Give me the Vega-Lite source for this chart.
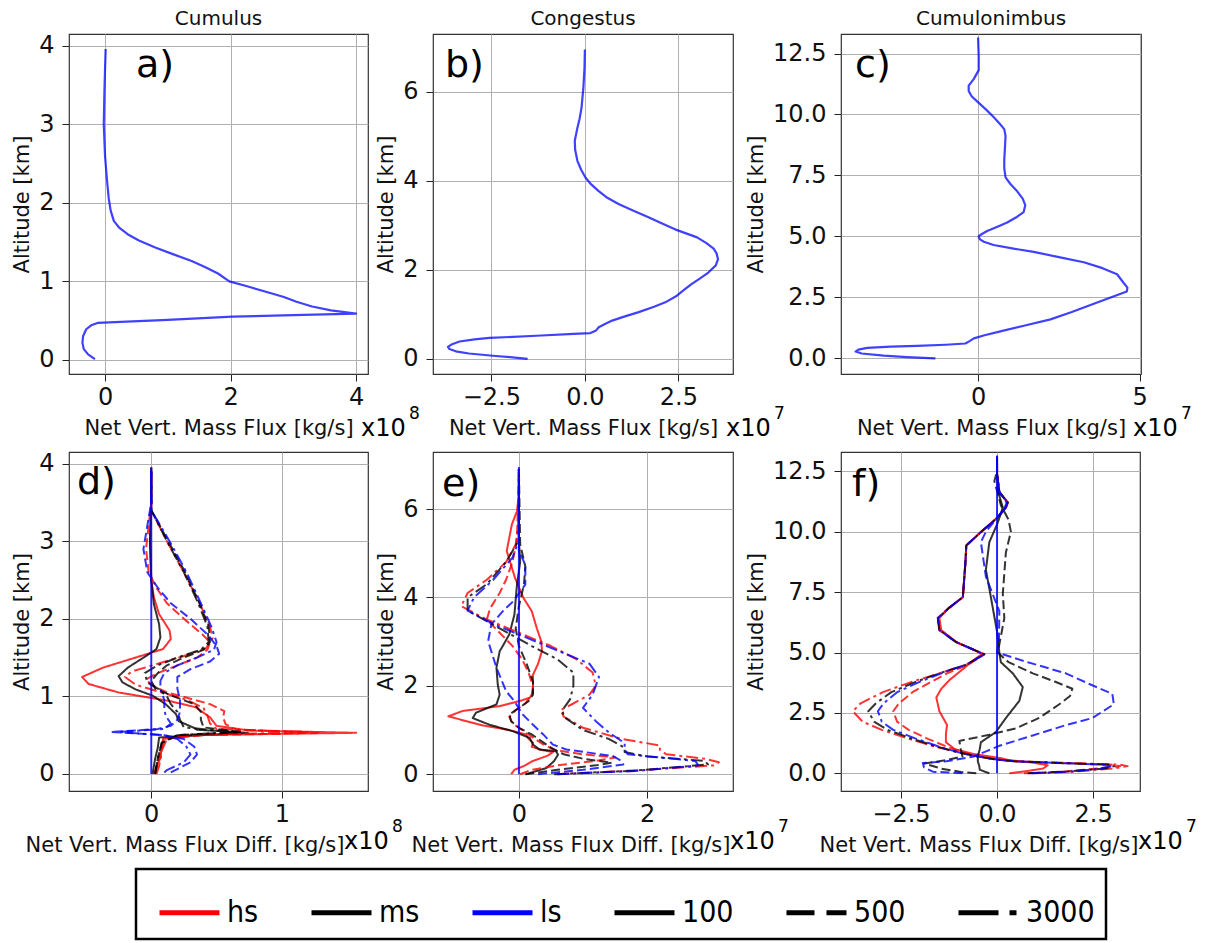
{
  "$schema": "https://vega.github.io/schema/vega-lite/v6.json",
  "background": "white",
  "padding": {"left": 11, "top": 8, "right": 0, "bottom": 0},
  "datasets": {
    "profiles": [
      {"panel":"a","alt":0.01,"flux":-0.16},{"panel":"a","alt":0.07,"flux":-0.27},{"panel":"a","alt":0.14,"flux":-0.34},{"panel":"a","alt":0.22,"flux":-0.36},{"panel":"a","alt":0.3,"flux":-0.35},{"panel":"a","alt":0.39,"flux":-0.3},{"panel":"a","alt":0.44,"flux":-0.22},{"panel":"a","alt":0.47,"flux":-0.12},{"panel":"a","alt":0.51,"flux":1.0},{"panel":"a","alt":0.55,"flux":2.03},{"panel":"a","alt":0.57,"flux":3.0},{"panel":"a","alt":0.59,"flux":4.0},{"panel":"a","alt":0.63,"flux":3.6},{"panel":"a","alt":0.68,"flux":3.3},{"panel":"a","alt":0.74,"flux":3.05},{"panel":"a","alt":0.8,"flux":2.85},{"panel":"a","alt":0.87,"flux":2.55},{"panel":"a","alt":0.94,"flux":2.25},{"panel":"a","alt":1.0,"flux":1.98},{"panel":"a","alt":1.1,"flux":1.8},{"panel":"a","alt":1.18,"flux":1.6},{"panel":"a","alt":1.26,"flux":1.38},{"panel":"a","alt":1.35,"flux":1.07},{"panel":"a","alt":1.43,"flux":0.8},{"panel":"a","alt":1.52,"flux":0.54},{"panel":"a","alt":1.6,"flux":0.36},{"panel":"a","alt":1.68,"flux":0.23},{"panel":"a","alt":1.77,"flux":0.14},{"panel":"a","alt":1.9,"flux":0.09},{"panel":"a","alt":2.05,"flux":0.06},{"panel":"a","alt":2.3,"flux":0.03},{"panel":"a","alt":2.6,"flux":0.0},{"panel":"a","alt":3.0,"flux":-0.02},{"panel":"a","alt":3.4,"flux":-0.01},{"panel":"a","alt":3.7,"flux":0.0},{"panel":"a","alt":3.96,"flux":0.01},
      {"panel":"b","alt":0.0,"flux":-1.53},{"panel":"b","alt":0.04,"flux":-2.0},{"panel":"b","alt":0.07,"flux":-2.46},{"panel":"b","alt":0.12,"flux":-3.1},{"panel":"b","alt":0.17,"flux":-3.45},{"panel":"b","alt":0.22,"flux":-3.62},{"panel":"b","alt":0.27,"flux":-3.66},{"panel":"b","alt":0.33,"flux":-3.55},{"panel":"b","alt":0.39,"flux":-3.35},{"panel":"b","alt":0.44,"flux":-2.95},{"panel":"b","alt":0.47,"flux":-2.55},{"panel":"b","alt":0.52,"flux":-1.3},{"panel":"b","alt":0.56,"flux":-0.3},{"panel":"b","alt":0.58,"flux":0.15},{"panel":"b","alt":0.64,"flux":0.3},{"panel":"b","alt":0.71,"flux":0.37},{"panel":"b","alt":0.79,"flux":0.55},{"panel":"b","alt":0.86,"flux":0.73},{"panel":"b","alt":0.95,"flux":1.05},{"panel":"b","alt":1.05,"flux":1.44},{"panel":"b","alt":1.17,"flux":1.85},{"panel":"b","alt":1.27,"flux":2.15},{"panel":"b","alt":1.42,"flux":2.46},{"panel":"b","alt":1.55,"flux":2.65},{"panel":"b","alt":1.68,"flux":2.85},{"panel":"b","alt":1.82,"flux":3.1},{"panel":"b","alt":1.94,"flux":3.3},{"panel":"b","alt":2.1,"flux":3.5},{"panel":"b","alt":2.24,"flux":3.56},{"panel":"b","alt":2.37,"flux":3.52},{"panel":"b","alt":2.47,"flux":3.45},{"panel":"b","alt":2.6,"flux":3.25},{"panel":"b","alt":2.73,"flux":3.0},{"panel":"b","alt":2.91,"flux":2.41},{"panel":"b","alt":3.05,"flux":2.05},{"panel":"b","alt":3.18,"flux":1.7},{"panel":"b","alt":3.33,"flux":1.3},{"panel":"b","alt":3.48,"flux":0.9},{"panel":"b","alt":3.62,"flux":0.6},{"panel":"b","alt":3.77,"flux":0.37},{"panel":"b","alt":3.92,"flux":0.17},{"panel":"b","alt":4.07,"flux":0.02},{"panel":"b","alt":4.25,"flux":-0.1},{"panel":"b","alt":4.45,"flux":-0.2},{"panel":"b","alt":4.7,"flux":-0.26},{"panel":"b","alt":4.9,"flux":-0.27},{"panel":"b","alt":5.19,"flux":-0.2},{"panel":"b","alt":5.4,"flux":-0.14},{"panel":"b","alt":5.64,"flux":-0.09},{"panel":"b","alt":6.09,"flux":-0.04},{"panel":"b","alt":6.54,"flux":-0.01},{"panel":"b","alt":6.95,"flux":0.0},
      {"panel":"c","alt":0.0,"flux":-1.32},{"panel":"c","alt":0.05,"flux":-2.2},{"panel":"c","alt":0.11,"flux":-2.92},{"panel":"c","alt":0.2,"flux":-3.6},{"panel":"c","alt":0.28,"flux":-3.79},{"panel":"c","alt":0.36,"flux":-3.7},{"panel":"c","alt":0.43,"flux":-3.43},{"panel":"c","alt":0.48,"flux":-2.7},{"panel":"c","alt":0.51,"flux":-1.89},{"panel":"c","alt":0.56,"flux":-1.0},{"panel":"c","alt":0.61,"flux":-0.39},{"panel":"c","alt":0.72,"flux":-0.25},{"panel":"c","alt":0.82,"flux":-0.13},{"panel":"c","alt":0.95,"flux":0.2},{"panel":"c","alt":1.11,"flux":0.69},{"panel":"c","alt":1.35,"flux":1.45},{"panel":"c","alt":1.6,"flux":2.24},{"panel":"c","alt":1.9,"flux":2.9},{"panel":"c","alt":2.24,"flux":3.58},{"panel":"c","alt":2.5,"flux":4.1},{"panel":"c","alt":2.74,"flux":4.6},{"panel":"c","alt":2.9,"flux":4.62},{"panel":"c","alt":3.1,"flux":4.5},{"panel":"c","alt":3.45,"flux":4.3},{"panel":"c","alt":3.7,"flux":3.85},{"panel":"c","alt":3.94,"flux":3.27},{"panel":"c","alt":4.15,"flux":2.5},{"panel":"c","alt":4.37,"flux":1.72},{"panel":"c","alt":4.5,"flux":1.1},{"panel":"c","alt":4.65,"flux":0.48},{"panel":"c","alt":4.78,"flux":0.18},{"panel":"c","alt":4.87,"flux":0.07},{"panel":"c","alt":4.95,"flux":0.03},{"panel":"c","alt":5.01,"flux":0.02},{"panel":"c","alt":5.1,"flux":0.12},{"panel":"c","alt":5.22,"flux":0.28},{"panel":"c","alt":5.4,"flux":0.6},{"panel":"c","alt":5.57,"flux":0.9},{"panel":"c","alt":5.8,"flux":1.2},{"panel":"c","alt":6.0,"flux":1.41},{"panel":"c","alt":6.28,"flux":1.46},{"panel":"c","alt":6.55,"flux":1.38},{"panel":"c","alt":6.85,"flux":1.21},{"panel":"c","alt":7.15,"flux":1.0},{"panel":"c","alt":7.42,"flux":0.85},{"panel":"c","alt":7.8,"flux":0.81},{"panel":"c","alt":8.13,"flux":0.81},{"panel":"c","alt":8.6,"flux":0.83},{"panel":"c","alt":9.12,"flux":0.85},{"panel":"c","alt":9.4,"flux":0.81},{"panel":"c","alt":9.65,"flux":0.65},{"panel":"c","alt":9.9,"flux":0.48},{"panel":"c","alt":10.2,"flux":0.25},{"panel":"c","alt":10.54,"flux":-0.03},{"panel":"c","alt":10.75,"flux":-0.2},{"panel":"c","alt":10.96,"flux":-0.29},{"panel":"c","alt":11.18,"flux":-0.29},{"panel":"c","alt":11.46,"flux":-0.13},{"panel":"c","alt":11.82,"flux":0.02},{"panel":"c","alt":12.38,"flux":0.02},{"panel":"c","alt":13.16,"flux":0.0}
    ],
    "diffs": [
      {"panel":"d","scheme":"hs","res":"100","alt":0,"flux":0.02},{"panel":"d","scheme":"hs","res":"100","alt":0.1,"flux":0.04},{"panel":"d","scheme":"hs","res":"100","alt":0.2,"flux":0.07},{"panel":"d","scheme":"hs","res":"100","alt":0.35,"flux":0.08},{"panel":"d","scheme":"hs","res":"100","alt":0.45,"flux":0.09},{"panel":"d","scheme":"hs","res":"100","alt":0.5,"flux":0.3},{"panel":"d","scheme":"hs","res":"100","alt":0.53,"flux":1.57},{"panel":"d","scheme":"hs","res":"100","alt":0.56,"flux":0.75},{"panel":"d","scheme":"hs","res":"100","alt":0.62,"flux":0.5},{"panel":"d","scheme":"hs","res":"100","alt":0.73,"flux":0.45},{"panel":"d","scheme":"hs","res":"100","alt":0.86,"flux":0.34},{"panel":"d","scheme":"hs","res":"100","alt":0.94,"flux":0.14},{"panel":"d","scheme":"hs","res":"100","alt":1.05,"flux":-0.25},{"panel":"d","scheme":"hs","res":"100","alt":1.16,"flux":-0.48},{"panel":"d","scheme":"hs","res":"100","alt":1.25,"flux":-0.53},{"panel":"d","scheme":"hs","res":"100","alt":1.37,"flux":-0.37},{"panel":"d","scheme":"hs","res":"100","alt":1.5,"flux":-0.12},{"panel":"d","scheme":"hs","res":"100","alt":1.61,"flux":0.09},{"panel":"d","scheme":"hs","res":"100","alt":1.74,"flux":0.15},{"panel":"d","scheme":"hs","res":"100","alt":1.85,"flux":0.14},{"panel":"d","scheme":"hs","res":"100","alt":2.06,"flux":0.06},{"panel":"d","scheme":"hs","res":"100","alt":2.28,"flux":0.02},{"panel":"d","scheme":"hs","res":"100","alt":2.5,"flux":0.0},{"panel":"d","scheme":"hs","res":"100","alt":3.0,"flux":-0.01},{"panel":"d","scheme":"hs","res":"100","alt":3.5,"flux":0.0},{"panel":"d","scheme":"hs","res":"100","alt":3.95,"flux":0.0},
      {"panel":"d","scheme":"ms","res":"100","alt":0,"flux":0.01},{"panel":"d","scheme":"ms","res":"100","alt":0.2,"flux":0.03},{"panel":"d","scheme":"ms","res":"100","alt":0.34,"flux":0.05},{"panel":"d","scheme":"ms","res":"100","alt":0.47,"flux":0.06},{"panel":"d","scheme":"ms","res":"100","alt":0.53,"flux":0.74},{"panel":"d","scheme":"ms","res":"100","alt":0.57,"flux":0.35},{"panel":"d","scheme":"ms","res":"100","alt":0.6,"flux":0.32},{"panel":"d","scheme":"ms","res":"100","alt":0.68,"flux":0.21},{"panel":"d","scheme":"ms","res":"100","alt":0.77,"flux":0.19},{"panel":"d","scheme":"ms","res":"100","alt":0.9,"flux":0.11},{"panel":"d","scheme":"ms","res":"100","alt":1.01,"flux":0.01},{"panel":"d","scheme":"ms","res":"100","alt":1.09,"flux":-0.12},{"panel":"d","scheme":"ms","res":"100","alt":1.18,"flux":-0.22},{"panel":"d","scheme":"ms","res":"100","alt":1.26,"flux":-0.25},{"panel":"d","scheme":"ms","res":"100","alt":1.37,"flux":-0.18},{"panel":"d","scheme":"ms","res":"100","alt":1.52,"flux":-0.04},{"panel":"d","scheme":"ms","res":"100","alt":1.61,"flux":0.04},{"panel":"d","scheme":"ms","res":"100","alt":1.76,"flux":0.07},{"panel":"d","scheme":"ms","res":"100","alt":1.93,"flux":0.06},{"panel":"d","scheme":"ms","res":"100","alt":2.19,"flux":0.02},{"panel":"d","scheme":"ms","res":"100","alt":2.5,"flux":0.0},{"panel":"d","scheme":"ms","res":"100","alt":3.0,"flux":-0.01},{"panel":"d","scheme":"ms","res":"100","alt":3.5,"flux":0.0},{"panel":"d","scheme":"ms","res":"100","alt":3.95,"flux":0.0},
      {"panel":"d","scheme":"hs","res":"500","alt":0,"flux":0.03},{"panel":"d","scheme":"hs","res":"500","alt":0.2,"flux":0.06},{"panel":"d","scheme":"hs","res":"500","alt":0.45,"flux":0.1},{"panel":"d","scheme":"hs","res":"500","alt":0.5,"flux":0.4},{"panel":"d","scheme":"hs","res":"500","alt":0.53,"flux":1.3},{"panel":"d","scheme":"hs","res":"500","alt":0.57,"flux":0.65},{"panel":"d","scheme":"hs","res":"500","alt":0.64,"flux":0.57},{"panel":"d","scheme":"hs","res":"500","alt":0.73,"flux":0.55},{"panel":"d","scheme":"hs","res":"500","alt":0.81,"flux":0.56},{"panel":"d","scheme":"hs","res":"500","alt":0.9,"flux":0.45},{"panel":"d","scheme":"hs","res":"500","alt":0.97,"flux":0.3},{"panel":"d","scheme":"hs","res":"500","alt":1.05,"flux":0.12},{"panel":"d","scheme":"hs","res":"500","alt":1.15,"flux":0.0},{"panel":"d","scheme":"hs","res":"500","alt":1.22,"flux":-0.04},{"panel":"d","scheme":"hs","res":"500","alt":1.3,"flux":0.05},{"panel":"d","scheme":"hs","res":"500","alt":1.4,"flux":0.2},{"panel":"d","scheme":"hs","res":"500","alt":1.5,"flux":0.35},{"panel":"d","scheme":"hs","res":"500","alt":1.6,"flux":0.43},{"panel":"d","scheme":"hs","res":"500","alt":1.7,"flux":0.45},{"panel":"d","scheme":"hs","res":"500","alt":1.8,"flux":0.39},{"panel":"d","scheme":"hs","res":"500","alt":2.0,"flux":0.25},{"panel":"d","scheme":"hs","res":"500","alt":2.2,"flux":0.12},{"panel":"d","scheme":"hs","res":"500","alt":2.4,"flux":0.04},{"panel":"d","scheme":"hs","res":"500","alt":2.6,"flux":-0.02},{"panel":"d","scheme":"hs","res":"500","alt":2.9,"flux":-0.04},{"panel":"d","scheme":"hs","res":"500","alt":3.2,"flux":-0.02},{"panel":"d","scheme":"hs","res":"500","alt":3.5,"flux":0.0},{"panel":"d","scheme":"hs","res":"500","alt":3.9,"flux":0.0},
      {"panel":"d","scheme":"hs","res":"3000","alt":0,"flux":0.04},{"panel":"d","scheme":"hs","res":"3000","alt":0.1,"flux":0.06},{"panel":"d","scheme":"hs","res":"3000","alt":0.3,"flux":0.08},{"panel":"d","scheme":"hs","res":"3000","alt":0.45,"flux":0.12},{"panel":"d","scheme":"hs","res":"3000","alt":0.5,"flux":0.3},{"panel":"d","scheme":"hs","res":"3000","alt":0.54,"flux":1.2},{"panel":"d","scheme":"hs","res":"3000","alt":0.58,"flux":0.5},{"panel":"d","scheme":"hs","res":"3000","alt":0.65,"flux":0.45},{"panel":"d","scheme":"hs","res":"3000","alt":0.75,"flux":0.43},{"panel":"d","scheme":"hs","res":"3000","alt":0.85,"flux":0.4},{"panel":"d","scheme":"hs","res":"3000","alt":0.95,"flux":0.28},{"panel":"d","scheme":"hs","res":"3000","alt":1.05,"flux":0.08},{"panel":"d","scheme":"hs","res":"3000","alt":1.15,"flux":-0.12},{"panel":"d","scheme":"hs","res":"3000","alt":1.25,"flux":-0.2},{"panel":"d","scheme":"hs","res":"3000","alt":1.32,"flux":-0.15},{"panel":"d","scheme":"hs","res":"3000","alt":1.42,"flux":0.05},{"panel":"d","scheme":"hs","res":"3000","alt":1.52,"flux":0.25},{"panel":"d","scheme":"hs","res":"3000","alt":1.62,"flux":0.42},{"panel":"d","scheme":"hs","res":"3000","alt":1.75,"flux":0.47},{"panel":"d","scheme":"hs","res":"3000","alt":1.9,"flux":0.45},{"panel":"d","scheme":"hs","res":"3000","alt":2.2,"flux":0.37},{"panel":"d","scheme":"hs","res":"3000","alt":2.6,"flux":0.25},{"panel":"d","scheme":"hs","res":"3000","alt":3.0,"flux":0.12},{"panel":"d","scheme":"hs","res":"3000","alt":3.4,"flux":0.0},{"panel":"d","scheme":"hs","res":"3000","alt":3.9,"flux":0.0},
      {"panel":"d","scheme":"ms","res":"500","alt":0,"flux":0.03},{"panel":"d","scheme":"ms","res":"500","alt":0.2,"flux":0.05},{"panel":"d","scheme":"ms","res":"500","alt":0.4,"flux":0.08},{"panel":"d","scheme":"ms","res":"500","alt":0.5,"flux":0.2},{"panel":"d","scheme":"ms","res":"500","alt":0.54,"flux":0.7},{"panel":"d","scheme":"ms","res":"500","alt":0.6,"flux":0.4},{"panel":"d","scheme":"ms","res":"500","alt":0.7,"flux":0.38},{"panel":"d","scheme":"ms","res":"500","alt":0.8,"flux":0.38},{"panel":"d","scheme":"ms","res":"500","alt":0.9,"flux":0.33},{"panel":"d","scheme":"ms","res":"500","alt":1.0,"flux":0.17},{"panel":"d","scheme":"ms","res":"500","alt":1.1,"flux":0.03},{"panel":"d","scheme":"ms","res":"500","alt":1.2,"flux":0.0},{"panel":"d","scheme":"ms","res":"500","alt":1.3,"flux":0.05},{"panel":"d","scheme":"ms","res":"500","alt":1.4,"flux":0.12},{"panel":"d","scheme":"ms","res":"500","alt":1.5,"flux":0.25},{"panel":"d","scheme":"ms","res":"500","alt":1.6,"flux":0.4},{"panel":"d","scheme":"ms","res":"500","alt":1.7,"flux":0.45},{"panel":"d","scheme":"ms","res":"500","alt":1.9,"flux":0.44},{"panel":"d","scheme":"ms","res":"500","alt":2.2,"flux":0.37},{"panel":"d","scheme":"ms","res":"500","alt":2.6,"flux":0.26},{"panel":"d","scheme":"ms","res":"500","alt":3.0,"flux":0.13},{"panel":"d","scheme":"ms","res":"500","alt":3.4,"flux":0.0},{"panel":"d","scheme":"ms","res":"500","alt":3.9,"flux":0.0},
      {"panel":"d","scheme":"ms","res":"3000","alt":0,"flux":0.03},{"panel":"d","scheme":"ms","res":"3000","alt":0.2,"flux":0.05},{"panel":"d","scheme":"ms","res":"3000","alt":0.4,"flux":0.08},{"panel":"d","scheme":"ms","res":"3000","alt":0.5,"flux":0.2},{"panel":"d","scheme":"ms","res":"3000","alt":0.54,"flux":0.65},{"panel":"d","scheme":"ms","res":"3000","alt":0.6,"flux":0.25},{"panel":"d","scheme":"ms","res":"3000","alt":0.7,"flux":0.22},{"panel":"d","scheme":"ms","res":"3000","alt":0.8,"flux":0.2},{"panel":"d","scheme":"ms","res":"3000","alt":0.9,"flux":0.15},{"panel":"d","scheme":"ms","res":"3000","alt":1.0,"flux":0.12},{"panel":"d","scheme":"ms","res":"3000","alt":1.1,"flux":0.05},{"panel":"d","scheme":"ms","res":"3000","alt":1.18,"flux":-0.03},{"panel":"d","scheme":"ms","res":"3000","alt":1.3,"flux":-0.05},{"panel":"d","scheme":"ms","res":"3000","alt":1.4,"flux":0.05},{"panel":"d","scheme":"ms","res":"3000","alt":1.5,"flux":0.2},{"panel":"d","scheme":"ms","res":"3000","alt":1.6,"flux":0.38},{"panel":"d","scheme":"ms","res":"3000","alt":1.7,"flux":0.44},{"panel":"d","scheme":"ms","res":"3000","alt":1.9,"flux":0.43},{"panel":"d","scheme":"ms","res":"3000","alt":2.2,"flux":0.36},{"panel":"d","scheme":"ms","res":"3000","alt":2.6,"flux":0.25},{"panel":"d","scheme":"ms","res":"3000","alt":3.0,"flux":0.12},{"panel":"d","scheme":"ms","res":"3000","alt":3.4,"flux":0.0},{"panel":"d","scheme":"ms","res":"3000","alt":3.9,"flux":0.0},
      {"panel":"d","scheme":"ls","res":"500","alt":0.02,"flux":0.15},{"panel":"d","scheme":"ls","res":"500","alt":0.08,"flux":0.22},{"panel":"d","scheme":"ls","res":"500","alt":0.15,"flux":0.3},{"panel":"d","scheme":"ls","res":"500","alt":0.25,"flux":0.35},{"panel":"d","scheme":"ls","res":"500","alt":0.35,"flux":0.33},{"panel":"d","scheme":"ls","res":"500","alt":0.45,"flux":0.25},{"panel":"d","scheme":"ls","res":"500","alt":0.5,"flux":0.1},{"panel":"d","scheme":"ls","res":"500","alt":0.54,"flux":-0.31},{"panel":"d","scheme":"ls","res":"500","alt":0.58,"flux":0.05},{"panel":"d","scheme":"ls","res":"500","alt":0.62,"flux":0.15},{"panel":"d","scheme":"ls","res":"500","alt":0.7,"flux":0.2},{"panel":"d","scheme":"ls","res":"500","alt":0.8,"flux":0.22},{"panel":"d","scheme":"ls","res":"500","alt":0.95,"flux":0.22},{"panel":"d","scheme":"ls","res":"500","alt":1.1,"flux":0.2},{"panel":"d","scheme":"ls","res":"500","alt":1.25,"flux":0.2},{"panel":"d","scheme":"ls","res":"500","alt":1.35,"flux":0.3},{"panel":"d","scheme":"ls","res":"500","alt":1.45,"flux":0.45},{"panel":"d","scheme":"ls","res":"500","alt":1.55,"flux":0.52},{"panel":"d","scheme":"ls","res":"500","alt":1.65,"flux":0.5},{"panel":"d","scheme":"ls","res":"500","alt":1.8,"flux":0.43},{"panel":"d","scheme":"ls","res":"500","alt":2.0,"flux":0.3},{"panel":"d","scheme":"ls","res":"500","alt":2.2,"flux":0.15},{"panel":"d","scheme":"ls","res":"500","alt":2.4,"flux":0.05},{"panel":"d","scheme":"ls","res":"500","alt":2.6,"flux":-0.03},{"panel":"d","scheme":"ls","res":"500","alt":2.9,"flux":-0.06},{"panel":"d","scheme":"ls","res":"500","alt":3.2,"flux":-0.03},{"panel":"d","scheme":"ls","res":"500","alt":3.5,"flux":0.0},{"panel":"d","scheme":"ls","res":"500","alt":3.9,"flux":0.0},
      {"panel":"d","scheme":"ls","res":"3000","alt":0.02,"flux":0.1},{"panel":"d","scheme":"ls","res":"3000","alt":0.05,"flux":0.12},{"panel":"d","scheme":"ls","res":"3000","alt":0.15,"flux":0.25},{"panel":"d","scheme":"ls","res":"3000","alt":0.25,"flux":0.3},{"panel":"d","scheme":"ls","res":"3000","alt":0.35,"flux":0.27},{"panel":"d","scheme":"ls","res":"3000","alt":0.45,"flux":0.2},{"panel":"d","scheme":"ls","res":"3000","alt":0.5,"flux":0.1},{"panel":"d","scheme":"ls","res":"3000","alt":0.54,"flux":-0.25},{"panel":"d","scheme":"ls","res":"3000","alt":0.58,"flux":0.1},{"panel":"d","scheme":"ls","res":"3000","alt":0.65,"flux":0.15},{"panel":"d","scheme":"ls","res":"3000","alt":0.75,"flux":0.11},{"panel":"d","scheme":"ls","res":"3000","alt":0.85,"flux":0.1},{"panel":"d","scheme":"ls","res":"3000","alt":0.95,"flux":0.1},{"panel":"d","scheme":"ls","res":"3000","alt":1.1,"flux":0.07},{"panel":"d","scheme":"ls","res":"3000","alt":1.2,"flux":0.07},{"panel":"d","scheme":"ls","res":"3000","alt":1.3,"flux":0.1},{"panel":"d","scheme":"ls","res":"3000","alt":1.4,"flux":0.2},{"panel":"d","scheme":"ls","res":"3000","alt":1.5,"flux":0.35},{"panel":"d","scheme":"ls","res":"3000","alt":1.6,"flux":0.48},{"panel":"d","scheme":"ls","res":"3000","alt":1.7,"flux":0.5},{"panel":"d","scheme":"ls","res":"3000","alt":1.9,"flux":0.46},{"panel":"d","scheme":"ls","res":"3000","alt":2.2,"flux":0.38},{"panel":"d","scheme":"ls","res":"3000","alt":2.6,"flux":0.27},{"panel":"d","scheme":"ls","res":"3000","alt":3.0,"flux":0.14},{"panel":"d","scheme":"ls","res":"3000","alt":3.4,"flux":0.0},{"panel":"d","scheme":"ls","res":"3000","alt":3.9,"flux":0.0},
      {"panel":"d","scheme":"ls","res":"100","alt":0,"flux":0},{"panel":"d","scheme":"ls","res":"100","alt":3.95,"flux":0},

      {"panel":"e","scheme":"hs","res":"100","alt":0,"flux":-0.12},{"panel":"e","scheme":"hs","res":"100","alt":0.1,"flux":-0.07},{"panel":"e","scheme":"hs","res":"100","alt":0.2,"flux":0.1},{"panel":"e","scheme":"hs","res":"100","alt":0.3,"flux":0.22},{"panel":"e","scheme":"hs","res":"100","alt":0.42,"flux":0.45},{"panel":"e","scheme":"hs","res":"100","alt":0.5,"flux":0.53},{"panel":"e","scheme":"hs","res":"100","alt":0.55,"flux":0.35},{"panel":"e","scheme":"hs","res":"100","alt":0.62,"flux":0.2},{"panel":"e","scheme":"hs","res":"100","alt":0.71,"flux":0.22},{"panel":"e","scheme":"hs","res":"100","alt":0.8,"flux":0.15},{"panel":"e","scheme":"hs","res":"100","alt":0.9,"flux":0.11},{"panel":"e","scheme":"hs","res":"100","alt":1.0,"flux":-0.15},{"panel":"e","scheme":"hs","res":"100","alt":1.1,"flux":-0.55},{"panel":"e","scheme":"hs","res":"100","alt":1.2,"flux":-0.82},{"panel":"e","scheme":"hs","res":"100","alt":1.31,"flux":-1.1},{"panel":"e","scheme":"hs","res":"100","alt":1.43,"flux":-0.88},{"panel":"e","scheme":"hs","res":"100","alt":1.54,"flux":-0.3},{"panel":"e","scheme":"hs","res":"100","alt":1.65,"flux":0.0},{"panel":"e","scheme":"hs","res":"100","alt":1.73,"flux":0.17},{"panel":"e","scheme":"hs","res":"100","alt":1.85,"flux":0.22},{"panel":"e","scheme":"hs","res":"100","alt":2.25,"flux":0.22},{"panel":"e","scheme":"hs","res":"100","alt":2.5,"flux":0.3},{"panel":"e","scheme":"hs","res":"100","alt":2.79,"flux":0.36},{"panel":"e","scheme":"hs","res":"100","alt":3.0,"flux":0.35},{"panel":"e","scheme":"hs","res":"100","alt":3.3,"flux":0.28},{"panel":"e","scheme":"hs","res":"100","alt":3.69,"flux":0.2},{"panel":"e","scheme":"hs","res":"100","alt":3.99,"flux":0.07},{"panel":"e","scheme":"hs","res":"100","alt":4.44,"flux":-0.06},{"panel":"e","scheme":"hs","res":"100","alt":5.05,"flux":-0.19},{"panel":"e","scheme":"hs","res":"100","alt":5.65,"flux":-0.11},{"panel":"e","scheme":"hs","res":"100","alt":5.95,"flux":-0.03},{"panel":"e","scheme":"hs","res":"100","alt":6.3,"flux":0.0},{"panel":"e","scheme":"hs","res":"100","alt":6.9,"flux":0.0},
      {"panel":"e","scheme":"ms","res":"100","alt":0,"flux":0.11},{"panel":"e","scheme":"ms","res":"100","alt":0.14,"flux":0.43},{"panel":"e","scheme":"ms","res":"100","alt":0.3,"flux":0.55},{"panel":"e","scheme":"ms","res":"100","alt":0.44,"flux":0.61},{"panel":"e","scheme":"ms","res":"100","alt":0.52,"flux":0.58},{"panel":"e","scheme":"ms","res":"100","alt":0.56,"flux":0.32},{"panel":"e","scheme":"ms","res":"100","alt":0.67,"flux":0.22},{"panel":"e","scheme":"ms","res":"100","alt":0.82,"flux":0.17},{"panel":"e","scheme":"ms","res":"100","alt":0.97,"flux":-0.09},{"panel":"e","scheme":"ms","res":"100","alt":1.12,"flux":-0.46},{"panel":"e","scheme":"ms","res":"100","alt":1.27,"flux":-0.72},{"panel":"e","scheme":"ms","res":"100","alt":1.39,"flux":-0.67},{"panel":"e","scheme":"ms","res":"100","alt":1.58,"flux":-0.35},{"panel":"e","scheme":"ms","res":"100","alt":1.8,"flux":-0.3},{"panel":"e","scheme":"ms","res":"100","alt":2.03,"flux":-0.33},{"panel":"e","scheme":"ms","res":"100","alt":2.41,"flux":-0.35},{"panel":"e","scheme":"ms","res":"100","alt":2.78,"flux":-0.3},{"panel":"e","scheme":"ms","res":"100","alt":3.16,"flux":-0.15},{"panel":"e","scheme":"ms","res":"100","alt":3.61,"flux":-0.07},{"panel":"e","scheme":"ms","res":"100","alt":4.29,"flux":-0.03},{"panel":"e","scheme":"ms","res":"100","alt":4.8,"flux":0.02},{"panel":"e","scheme":"ms","res":"100","alt":5.3,"flux":0.0},{"panel":"e","scheme":"ms","res":"100","alt":6.9,"flux":0.0},
      {"panel":"e","scheme":"hs","res":"500","alt":0,"flux":0.02},{"panel":"e","scheme":"hs","res":"500","alt":0.1,"flux":0.2},{"panel":"e","scheme":"hs","res":"500","alt":0.2,"flux":0.6},{"panel":"e","scheme":"hs","res":"500","alt":0.3,"flux":1.2},{"panel":"e","scheme":"hs","res":"500","alt":0.38,"flux":1.5},{"panel":"e","scheme":"hs","res":"500","alt":0.45,"flux":1.0},{"panel":"e","scheme":"hs","res":"500","alt":0.55,"flux":0.55},{"panel":"e","scheme":"hs","res":"500","alt":0.7,"flux":0.35},{"panel":"e","scheme":"hs","res":"500","alt":0.85,"flux":0.2},{"panel":"e","scheme":"hs","res":"500","alt":1.0,"flux":0.05},{"panel":"e","scheme":"hs","res":"500","alt":1.15,"flux":-0.1},{"panel":"e","scheme":"hs","res":"500","alt":1.3,"flux":-0.15},{"panel":"e","scheme":"hs","res":"500","alt":1.45,"flux":-0.05},{"panel":"e","scheme":"hs","res":"500","alt":1.6,"flux":0.1},{"panel":"e","scheme":"hs","res":"500","alt":1.8,"flux":0.2},{"panel":"e","scheme":"hs","res":"500","alt":2.0,"flux":0.22},{"panel":"e","scheme":"hs","res":"500","alt":2.3,"flux":0.15},{"panel":"e","scheme":"hs","res":"500","alt":2.6,"flux":0.05},{"panel":"e","scheme":"hs","res":"500","alt":2.9,"flux":-0.1},{"panel":"e","scheme":"hs","res":"500","alt":3.2,"flux":-0.3},{"panel":"e","scheme":"hs","res":"500","alt":3.5,"flux":-0.5},{"panel":"e","scheme":"hs","res":"500","alt":3.75,"flux":-0.45},{"panel":"e","scheme":"hs","res":"500","alt":4.1,"flux":-0.3},{"panel":"e","scheme":"hs","res":"500","alt":4.4,"flux":-0.2},{"panel":"e","scheme":"hs","res":"500","alt":4.8,"flux":-0.1},{"panel":"e","scheme":"hs","res":"500","alt":5.3,"flux":-0.03},{"panel":"e","scheme":"hs","res":"500","alt":6.9,"flux":0.0},
      {"panel":"e","scheme":"ms","res":"500","alt":0,"flux":0.1},{"panel":"e","scheme":"ms","res":"500","alt":0.1,"flux":0.6},{"panel":"e","scheme":"ms","res":"500","alt":0.2,"flux":1.2},{"panel":"e","scheme":"ms","res":"500","alt":0.26,"flux":1.45},{"panel":"e","scheme":"ms","res":"500","alt":0.35,"flux":1.0},{"panel":"e","scheme":"ms","res":"500","alt":0.45,"flux":0.7},{"panel":"e","scheme":"ms","res":"500","alt":0.6,"flux":0.5},{"panel":"e","scheme":"ms","res":"500","alt":0.75,"flux":0.35},{"panel":"e","scheme":"ms","res":"500","alt":0.9,"flux":0.2},{"panel":"e","scheme":"ms","res":"500","alt":1.05,"flux":0.0},{"panel":"e","scheme":"ms","res":"500","alt":1.2,"flux":-0.12},{"panel":"e","scheme":"ms","res":"500","alt":1.35,"flux":-0.15},{"panel":"e","scheme":"ms","res":"500","alt":1.5,"flux":0.0},{"panel":"e","scheme":"ms","res":"500","alt":1.65,"flux":0.15},{"panel":"e","scheme":"ms","res":"500","alt":1.8,"flux":0.22},{"panel":"e","scheme":"ms","res":"500","alt":2.1,"flux":0.22},{"panel":"e","scheme":"ms","res":"500","alt":2.5,"flux":0.12},{"panel":"e","scheme":"ms","res":"500","alt":2.9,"flux":0.0},{"panel":"e","scheme":"ms","res":"500","alt":3.3,"flux":-0.05},{"panel":"e","scheme":"ms","res":"500","alt":3.8,"flux":0.0},{"panel":"e","scheme":"ms","res":"500","alt":4.3,"flux":0.08},{"panel":"e","scheme":"ms","res":"500","alt":4.7,"flux":0.1},{"panel":"e","scheme":"ms","res":"500","alt":5.2,"flux":0.02},{"panel":"e","scheme":"ms","res":"500","alt":6.9,"flux":0.0},
      {"panel":"e","scheme":"ls","res":"500","alt":0,"flux":0.3},{"panel":"e","scheme":"ls","res":"500","alt":0.1,"flux":1.0},{"panel":"e","scheme":"ls","res":"500","alt":0.22,"flux":1.63},{"panel":"e","scheme":"ls","res":"500","alt":0.3,"flux":1.6},{"panel":"e","scheme":"ls","res":"500","alt":0.41,"flux":1.47},{"panel":"e","scheme":"ls","res":"500","alt":0.56,"flux":0.74},{"panel":"e","scheme":"ls","res":"500","alt":0.67,"flux":0.53},{"panel":"e","scheme":"ls","res":"500","alt":0.9,"flux":0.38},{"panel":"e","scheme":"ls","res":"500","alt":1.12,"flux":0.22},{"panel":"e","scheme":"ls","res":"500","alt":1.35,"flux":0.06},{"panel":"e","scheme":"ls","res":"500","alt":1.65,"flux":-0.07},{"panel":"e","scheme":"ls","res":"500","alt":1.88,"flux":-0.2},{"panel":"e","scheme":"ls","res":"500","alt":2.41,"flux":-0.35},{"panel":"e","scheme":"ls","res":"500","alt":3.01,"flux":-0.48},{"panel":"e","scheme":"ls","res":"500","alt":3.39,"flux":-0.43},{"panel":"e","scheme":"ls","res":"500","alt":3.69,"flux":-0.25},{"panel":"e","scheme":"ls","res":"500","alt":3.91,"flux":-0.09},{"panel":"e","scheme":"ls","res":"500","alt":4.29,"flux":0.1},{"panel":"e","scheme":"ls","res":"500","alt":4.74,"flux":0.1},{"panel":"e","scheme":"ls","res":"500","alt":5.05,"flux":0.0},{"panel":"e","scheme":"ls","res":"500","alt":6.9,"flux":0.0},
      {"panel":"e","scheme":"hs","res":"3000","alt":0,"flux":0.6},{"panel":"e","scheme":"hs","res":"3000","alt":0.1,"flux":2.0},{"panel":"e","scheme":"hs","res":"3000","alt":0.2,"flux":3.05},{"panel":"e","scheme":"hs","res":"3000","alt":0.27,"flux":3.12},{"panel":"e","scheme":"hs","res":"3000","alt":0.35,"flux":2.9},{"panel":"e","scheme":"hs","res":"3000","alt":0.45,"flux":2.3},{"panel":"e","scheme":"hs","res":"3000","alt":0.55,"flux":2.2},{"panel":"e","scheme":"hs","res":"3000","alt":0.65,"flux":2.2},{"panel":"e","scheme":"hs","res":"3000","alt":0.8,"flux":1.6},{"panel":"e","scheme":"hs","res":"3000","alt":1.05,"flux":1.0},{"panel":"e","scheme":"hs","res":"3000","alt":1.3,"flux":0.7},{"panel":"e","scheme":"hs","res":"3000","alt":1.45,"flux":0.65},{"panel":"e","scheme":"hs","res":"3000","alt":1.6,"flux":0.85},{"panel":"e","scheme":"hs","res":"3000","alt":1.8,"flux":1.1},{"panel":"e","scheme":"hs","res":"3000","alt":2.0,"flux":1.2},{"panel":"e","scheme":"hs","res":"3000","alt":2.3,"flux":1.15},{"panel":"e","scheme":"hs","res":"3000","alt":2.6,"flux":0.9},{"panel":"e","scheme":"hs","res":"3000","alt":2.9,"flux":0.5},{"panel":"e","scheme":"hs","res":"3000","alt":3.2,"flux":0.0},{"panel":"e","scheme":"hs","res":"3000","alt":3.5,"flux":-0.5},{"panel":"e","scheme":"hs","res":"3000","alt":3.8,"flux":-0.9},{"panel":"e","scheme":"hs","res":"3000","alt":4.1,"flux":-0.8},{"panel":"e","scheme":"hs","res":"3000","alt":4.4,"flux":-0.5},{"panel":"e","scheme":"hs","res":"3000","alt":4.8,"flux":-0.2},{"panel":"e","scheme":"hs","res":"3000","alt":5.2,"flux":-0.05},{"panel":"e","scheme":"hs","res":"3000","alt":5.8,"flux":0.0},{"panel":"e","scheme":"hs","res":"3000","alt":6.9,"flux":0.0},
      {"panel":"e","scheme":"ms","res":"3000","alt":0,"flux":0.55},{"panel":"e","scheme":"ms","res":"3000","alt":0.08,"flux":1.8},{"panel":"e","scheme":"ms","res":"3000","alt":0.22,"flux":2.95},{"panel":"e","scheme":"ms","res":"3000","alt":0.3,"flux":2.9},{"panel":"e","scheme":"ms","res":"3000","alt":0.4,"flux":2.0},{"panel":"e","scheme":"ms","res":"3000","alt":0.5,"flux":1.65},{"panel":"e","scheme":"ms","res":"3000","alt":0.6,"flux":1.65},{"panel":"e","scheme":"ms","res":"3000","alt":0.8,"flux":1.4},{"panel":"e","scheme":"ms","res":"3000","alt":1.0,"flux":1.0},{"panel":"e","scheme":"ms","res":"3000","alt":1.3,"flux":0.7},{"panel":"e","scheme":"ms","res":"3000","alt":1.45,"flux":0.68},{"panel":"e","scheme":"ms","res":"3000","alt":1.7,"flux":0.8},{"panel":"e","scheme":"ms","res":"3000","alt":2.0,"flux":0.85},{"panel":"e","scheme":"ms","res":"3000","alt":2.3,"flux":0.85},{"panel":"e","scheme":"ms","res":"3000","alt":2.6,"flux":0.6},{"panel":"e","scheme":"ms","res":"3000","alt":2.9,"flux":0.2},{"panel":"e","scheme":"ms","res":"3000","alt":3.3,"flux":-0.3},{"panel":"e","scheme":"ms","res":"3000","alt":3.7,"flux":-0.8},{"panel":"e","scheme":"ms","res":"3000","alt":4.0,"flux":-0.8},{"panel":"e","scheme":"ms","res":"3000","alt":4.3,"flux":-0.5},{"panel":"e","scheme":"ms","res":"3000","alt":4.8,"flux":-0.2},{"panel":"e","scheme":"ms","res":"3000","alt":5.3,"flux":0.0},{"panel":"e","scheme":"ms","res":"3000","alt":6.9,"flux":0.0},
      {"panel":"e","scheme":"ls","res":"3000","alt":0,"flux":0.6},{"panel":"e","scheme":"ls","res":"3000","alt":0.07,"flux":1.8},{"panel":"e","scheme":"ls","res":"3000","alt":0.2,"flux":2.8},{"panel":"e","scheme":"ls","res":"3000","alt":0.3,"flux":2.75},{"panel":"e","scheme":"ls","res":"3000","alt":0.45,"flux":1.7},{"panel":"e","scheme":"ls","res":"3000","alt":0.55,"flux":1.65},{"panel":"e","scheme":"ls","res":"3000","alt":0.7,"flux":1.65},{"panel":"e","scheme":"ls","res":"3000","alt":0.95,"flux":1.4},{"panel":"e","scheme":"ls","res":"3000","alt":1.2,"flux":1.2},{"panel":"e","scheme":"ls","res":"3000","alt":1.5,"flux":1.0},{"panel":"e","scheme":"ls","res":"3000","alt":1.8,"flux":1.15},{"panel":"e","scheme":"ls","res":"3000","alt":2.2,"flux":1.25},{"panel":"e","scheme":"ls","res":"3000","alt":2.5,"flux":1.1},{"panel":"e","scheme":"ls","res":"3000","alt":2.8,"flux":0.6},{"panel":"e","scheme":"ls","res":"3000","alt":3.1,"flux":0.1},{"panel":"e","scheme":"ls","res":"3000","alt":3.4,"flux":-0.4},{"panel":"e","scheme":"ls","res":"3000","alt":3.7,"flux":-0.8},{"panel":"e","scheme":"ls","res":"3000","alt":4.0,"flux":-0.7},{"panel":"e","scheme":"ls","res":"3000","alt":4.4,"flux":-0.4},{"panel":"e","scheme":"ls","res":"3000","alt":4.9,"flux":-0.1},{"panel":"e","scheme":"ls","res":"3000","alt":5.3,"flux":0.0},{"panel":"e","scheme":"ls","res":"3000","alt":6.9,"flux":0.0},
      {"panel":"e","scheme":"ls","res":"100","alt":0,"flux":0},{"panel":"e","scheme":"ls","res":"100","alt":6.95,"flux":0},

      {"panel":"f","scheme":"hs","res":"100","alt":0,"flux":0.32},{"panel":"f","scheme":"hs","res":"100","alt":0.1,"flux":0.8},{"panel":"f","scheme":"hs","res":"100","alt":0.2,"flux":1.2},{"panel":"f","scheme":"hs","res":"100","alt":0.34,"flux":1.32},{"panel":"f","scheme":"hs","res":"100","alt":0.45,"flux":0.9},{"panel":"f","scheme":"hs","res":"100","alt":0.55,"flux":0.3},{"panel":"f","scheme":"hs","res":"100","alt":0.63,"flux":0.1},{"panel":"f","scheme":"hs","res":"100","alt":0.8,"flux":-0.6},{"panel":"f","scheme":"hs","res":"100","alt":1.0,"flux":-1.1},{"panel":"f","scheme":"hs","res":"100","alt":1.29,"flux":-1.33},{"panel":"f","scheme":"hs","res":"100","alt":1.64,"flux":-1.33},{"panel":"f","scheme":"hs","res":"100","alt":2.0,"flux":-1.3},{"panel":"f","scheme":"hs","res":"100","alt":2.57,"flux":-1.5},{"panel":"f","scheme":"hs","res":"100","alt":3.14,"flux":-1.58},{"panel":"f","scheme":"hs","res":"100","alt":3.5,"flux":-1.45},{"panel":"f","scheme":"hs","res":"100","alt":3.86,"flux":-1.24},{"panel":"f","scheme":"hs","res":"100","alt":4.3,"flux":-0.9},{"panel":"f","scheme":"hs","res":"100","alt":4.71,"flux":-0.59},{"panel":"f","scheme":"hs","res":"100","alt":4.93,"flux":-0.4},{"panel":"f","scheme":"hs","res":"100","alt":5.07,"flux":-0.54},{"panel":"f","scheme":"hs","res":"100","alt":5.43,"flux":-1.06},{"panel":"f","scheme":"hs","res":"100","alt":5.93,"flux":-1.45},{"panel":"f","scheme":"hs","res":"100","alt":6.43,"flux":-1.5},{"panel":"f","scheme":"hs","res":"100","alt":6.86,"flux":-1.24},{"panel":"f","scheme":"hs","res":"100","alt":7.29,"flux":-0.89},{"panel":"f","scheme":"hs","res":"100","alt":8.14,"flux":-0.85},{"panel":"f","scheme":"hs","res":"100","alt":8.8,"flux":-0.82},{"panel":"f","scheme":"hs","res":"100","alt":9.43,"flux":-0.8},{"panel":"f","scheme":"hs","res":"100","alt":9.93,"flux":-0.46},{"panel":"f","scheme":"hs","res":"100","alt":10.57,"flux":0.0},{"panel":"f","scheme":"hs","res":"100","alt":11.0,"flux":0.23},{"panel":"f","scheme":"hs","res":"100","alt":11.21,"flux":0.28},{"panel":"f","scheme":"hs","res":"100","alt":11.64,"flux":0.06},{"panel":"f","scheme":"hs","res":"100","alt":12.4,"flux":0.0},{"panel":"f","scheme":"hs","res":"100","alt":13.1,"flux":0.0},
      {"panel":"f","scheme":"hs","res":"500","alt":0,"flux":0.7},{"panel":"f","scheme":"hs","res":"500","alt":0.07,"flux":1.7},{"panel":"f","scheme":"hs","res":"500","alt":0.2,"flux":2.6},{"panel":"f","scheme":"hs","res":"500","alt":0.3,"flux":3.2},{"panel":"f","scheme":"hs","res":"500","alt":0.36,"flux":3.0},{"panel":"f","scheme":"hs","res":"500","alt":0.43,"flux":1.7},{"panel":"f","scheme":"hs","res":"500","alt":0.5,"flux":0.45},{"panel":"f","scheme":"hs","res":"500","alt":0.57,"flux":0.0},{"panel":"f","scheme":"hs","res":"500","alt":0.7,"flux":-0.45},{"panel":"f","scheme":"hs","res":"500","alt":0.86,"flux":-0.9},{"panel":"f","scheme":"hs","res":"500","alt":1.1,"flux":-1.3},{"panel":"f","scheme":"hs","res":"500","alt":1.43,"flux":-1.8},{"panel":"f","scheme":"hs","res":"500","alt":1.8,"flux":-2.3},{"panel":"f","scheme":"hs","res":"500","alt":2.14,"flux":-2.6},{"panel":"f","scheme":"hs","res":"500","alt":2.57,"flux":-2.7},{"panel":"f","scheme":"hs","res":"500","alt":2.9,"flux":-2.55},{"panel":"f","scheme":"hs","res":"500","alt":3.36,"flux":-2.2},{"panel":"f","scheme":"hs","res":"500","alt":3.8,"flux":-1.7},{"panel":"f","scheme":"hs","res":"500","alt":4.14,"flux":-1.3},{"panel":"f","scheme":"hs","res":"500","alt":4.5,"flux":-0.75},{"panel":"f","scheme":"hs","res":"500","alt":4.93,"flux":-0.33},{"panel":"f","scheme":"hs","res":"500","alt":5.07,"flux":-0.54},{"panel":"f","scheme":"hs","res":"500","alt":5.43,"flux":-1.06},{"panel":"f","scheme":"hs","res":"500","alt":5.93,"flux":-1.5},{"panel":"f","scheme":"hs","res":"500","alt":6.43,"flux":-1.54},{"panel":"f","scheme":"hs","res":"500","alt":6.86,"flux":-1.24},{"panel":"f","scheme":"hs","res":"500","alt":7.29,"flux":-0.89},{"panel":"f","scheme":"hs","res":"500","alt":8.14,"flux":-0.85},{"panel":"f","scheme":"hs","res":"500","alt":8.8,"flux":-0.82},{"panel":"f","scheme":"hs","res":"500","alt":9.43,"flux":-0.8},{"panel":"f","scheme":"hs","res":"500","alt":9.93,"flux":-0.46},{"panel":"f","scheme":"hs","res":"500","alt":10.57,"flux":0.0},{"panel":"f","scheme":"hs","res":"500","alt":11.0,"flux":0.23},{"panel":"f","scheme":"hs","res":"500","alt":11.21,"flux":0.28},{"panel":"f","scheme":"hs","res":"500","alt":11.64,"flux":0.06},{"panel":"f","scheme":"hs","res":"500","alt":12.4,"flux":0.0},{"panel":"f","scheme":"hs","res":"500","alt":13.1,"flux":0.0},
      {"panel":"f","scheme":"hs","res":"3000","alt":0,"flux":0.9},{"panel":"f","scheme":"hs","res":"3000","alt":0.07,"flux":2.0},{"panel":"f","scheme":"hs","res":"3000","alt":0.2,"flux":3.0},{"panel":"f","scheme":"hs","res":"3000","alt":0.3,"flux":3.4},{"panel":"f","scheme":"hs","res":"3000","alt":0.36,"flux":3.2},{"panel":"f","scheme":"hs","res":"3000","alt":0.43,"flux":1.8},{"panel":"f","scheme":"hs","res":"3000","alt":0.5,"flux":0.5},{"panel":"f","scheme":"hs","res":"3000","alt":0.57,"flux":0.0},{"panel":"f","scheme":"hs","res":"3000","alt":0.7,"flux":-0.5},{"panel":"f","scheme":"hs","res":"3000","alt":0.86,"flux":-0.98},{"panel":"f","scheme":"hs","res":"3000","alt":1.1,"flux":-1.6},{"panel":"f","scheme":"hs","res":"3000","alt":1.43,"flux":-2.3},{"panel":"f","scheme":"hs","res":"3000","alt":1.8,"flux":-3.0},{"panel":"f","scheme":"hs","res":"3000","alt":2.14,"flux":-3.5},{"panel":"f","scheme":"hs","res":"3000","alt":2.57,"flux":-3.75},{"panel":"f","scheme":"hs","res":"3000","alt":2.9,"flux":-3.55},{"panel":"f","scheme":"hs","res":"3000","alt":3.36,"flux":-2.97},{"panel":"f","scheme":"hs","res":"3000","alt":3.8,"flux":-2.2},{"panel":"f","scheme":"hs","res":"3000","alt":4.14,"flux":-1.5},{"panel":"f","scheme":"hs","res":"3000","alt":4.5,"flux":-0.8},{"panel":"f","scheme":"hs","res":"3000","alt":4.93,"flux":-0.33},{"panel":"f","scheme":"hs","res":"3000","alt":5.07,"flux":-0.54},{"panel":"f","scheme":"hs","res":"3000","alt":5.43,"flux":-1.06},{"panel":"f","scheme":"hs","res":"3000","alt":5.93,"flux":-1.5},{"panel":"f","scheme":"hs","res":"3000","alt":6.43,"flux":-1.54},{"panel":"f","scheme":"hs","res":"3000","alt":6.86,"flux":-1.24},{"panel":"f","scheme":"hs","res":"3000","alt":7.29,"flux":-0.89},{"panel":"f","scheme":"hs","res":"3000","alt":8.14,"flux":-0.85},{"panel":"f","scheme":"hs","res":"3000","alt":8.8,"flux":-0.82},{"panel":"f","scheme":"hs","res":"3000","alt":9.43,"flux":-0.8},{"panel":"f","scheme":"hs","res":"3000","alt":9.93,"flux":-0.46},{"panel":"f","scheme":"hs","res":"3000","alt":10.57,"flux":0.0},{"panel":"f","scheme":"hs","res":"3000","alt":11.0,"flux":0.23},{"panel":"f","scheme":"hs","res":"3000","alt":11.21,"flux":0.28},{"panel":"f","scheme":"hs","res":"3000","alt":11.64,"flux":0.06},{"panel":"f","scheme":"hs","res":"3000","alt":12.4,"flux":0.0},{"panel":"f","scheme":"hs","res":"3000","alt":13.1,"flux":0.0},
      {"panel":"f","scheme":"ms","res":"100","alt":0,"flux":-0.2},{"panel":"f","scheme":"ms","res":"100","alt":0.15,"flux":-0.45},{"panel":"f","scheme":"ms","res":"100","alt":0.29,"flux":-0.46},{"panel":"f","scheme":"ms","res":"100","alt":0.5,"flux":-0.5},{"panel":"f","scheme":"ms","res":"100","alt":0.71,"flux":-0.5},{"panel":"f","scheme":"ms","res":"100","alt":1.0,"flux":-0.45},{"panel":"f","scheme":"ms","res":"100","alt":1.29,"flux":-0.42},{"panel":"f","scheme":"ms","res":"100","alt":1.71,"flux":-0.03},{"panel":"f","scheme":"ms","res":"100","alt":2.29,"flux":0.23},{"panel":"f","scheme":"ms","res":"100","alt":3.0,"flux":0.58},{"panel":"f","scheme":"ms","res":"100","alt":3.57,"flux":0.67},{"panel":"f","scheme":"ms","res":"100","alt":4.14,"flux":0.41},{"panel":"f","scheme":"ms","res":"100","alt":4.6,"flux":0.1},{"panel":"f","scheme":"ms","res":"100","alt":5.0,"flux":0.06},{"panel":"f","scheme":"ms","res":"100","alt":5.86,"flux":0.0},{"panel":"f","scheme":"ms","res":"100","alt":7.29,"flux":-0.16},{"panel":"f","scheme":"ms","res":"100","alt":8.43,"flux":-0.29},{"panel":"f","scheme":"ms","res":"100","alt":9.57,"flux":-0.2},{"panel":"f","scheme":"ms","res":"100","alt":10.3,"flux":0.0},{"panel":"f","scheme":"ms","res":"100","alt":10.57,"flux":0.06},{"panel":"f","scheme":"ms","res":"100","alt":11.0,"flux":0.15},{"panel":"f","scheme":"ms","res":"100","alt":11.71,"flux":0.02},{"panel":"f","scheme":"ms","res":"100","alt":12.4,"flux":0.0},{"panel":"f","scheme":"ms","res":"100","alt":13.1,"flux":0.0},
      {"panel":"f","scheme":"ms","res":"500","alt":0,"flux":-0.54},{"panel":"f","scheme":"ms","res":"500","alt":0.06,"flux":-0.94},{"panel":"f","scheme":"ms","res":"500","alt":0.2,"flux":-1.46},{"panel":"f","scheme":"ms","res":"500","alt":0.41,"flux":-1.89},{"panel":"f","scheme":"ms","res":"500","alt":0.55,"flux":-1.3},{"panel":"f","scheme":"ms","res":"500","alt":0.7,"flux":-0.9},{"panel":"f","scheme":"ms","res":"500","alt":0.99,"flux":-0.94},{"panel":"f","scheme":"ms","res":"500","alt":1.34,"flux":-0.98},{"panel":"f","scheme":"ms","res":"500","alt":1.6,"flux":-0.2},{"panel":"f","scheme":"ms","res":"500","alt":1.86,"flux":0.49},{"panel":"f","scheme":"ms","res":"500","alt":2.3,"flux":1.1},{"panel":"f","scheme":"ms","res":"500","alt":2.86,"flux":1.62},{"panel":"f","scheme":"ms","res":"500","alt":3.2,"flux":1.9},{"panel":"f","scheme":"ms","res":"500","alt":3.5,"flux":1.96},{"panel":"f","scheme":"ms","res":"500","alt":3.8,"flux":1.5},{"panel":"f","scheme":"ms","res":"500","alt":4.14,"flux":0.93},{"panel":"f","scheme":"ms","res":"500","alt":4.6,"flux":0.3},{"panel":"f","scheme":"ms","res":"500","alt":5.0,"flux":0.02},{"panel":"f","scheme":"ms","res":"500","alt":6.43,"flux":0.19},{"panel":"f","scheme":"ms","res":"500","alt":7.43,"flux":0.15},{"panel":"f","scheme":"ms","res":"500","alt":9.14,"flux":0.23},{"panel":"f","scheme":"ms","res":"500","alt":10.0,"flux":0.36},{"panel":"f","scheme":"ms","res":"500","alt":10.5,"flux":0.3},{"panel":"f","scheme":"ms","res":"500","alt":11.1,"flux":0.1},{"panel":"f","scheme":"ms","res":"500","alt":12.1,"flux":-0.07},{"panel":"f","scheme":"ms","res":"500","alt":12.5,"flux":0.0},{"panel":"f","scheme":"ms","res":"500","alt":13.1,"flux":0.0},
      {"panel":"f","scheme":"ms","res":"3000","alt":0,"flux":0.8},{"panel":"f","scheme":"ms","res":"3000","alt":0.07,"flux":1.8},{"panel":"f","scheme":"ms","res":"3000","alt":0.2,"flux":2.8},{"panel":"f","scheme":"ms","res":"3000","alt":0.3,"flux":3.05},{"panel":"f","scheme":"ms","res":"3000","alt":0.36,"flux":2.9},{"panel":"f","scheme":"ms","res":"3000","alt":0.43,"flux":1.6},{"panel":"f","scheme":"ms","res":"3000","alt":0.5,"flux":0.45},{"panel":"f","scheme":"ms","res":"3000","alt":0.57,"flux":0.0},{"panel":"f","scheme":"ms","res":"3000","alt":0.7,"flux":-0.5},{"panel":"f","scheme":"ms","res":"3000","alt":0.86,"flux":-0.98},{"panel":"f","scheme":"ms","res":"3000","alt":1.1,"flux":-1.55},{"panel":"f","scheme":"ms","res":"3000","alt":1.43,"flux":-2.2},{"panel":"f","scheme":"ms","res":"3000","alt":1.8,"flux":-2.85},{"panel":"f","scheme":"ms","res":"3000","alt":2.14,"flux":-3.2},{"panel":"f","scheme":"ms","res":"3000","alt":2.57,"flux":-3.35},{"panel":"f","scheme":"ms","res":"3000","alt":2.9,"flux":-3.15},{"panel":"f","scheme":"ms","res":"3000","alt":3.36,"flux":-2.75},{"panel":"f","scheme":"ms","res":"3000","alt":3.8,"flux":-2.1},{"panel":"f","scheme":"ms","res":"3000","alt":4.14,"flux":-1.5},{"panel":"f","scheme":"ms","res":"3000","alt":4.5,"flux":-0.8},{"panel":"f","scheme":"ms","res":"3000","alt":4.93,"flux":-0.33},{"panel":"f","scheme":"ms","res":"3000","alt":5.07,"flux":-0.54},{"panel":"f","scheme":"ms","res":"3000","alt":5.43,"flux":-1.06},{"panel":"f","scheme":"ms","res":"3000","alt":5.93,"flux":-1.5},{"panel":"f","scheme":"ms","res":"3000","alt":6.43,"flux":-1.54},{"panel":"f","scheme":"ms","res":"3000","alt":6.86,"flux":-1.24},{"panel":"f","scheme":"ms","res":"3000","alt":7.29,"flux":-0.89},{"panel":"f","scheme":"ms","res":"3000","alt":8.14,"flux":-0.85},{"panel":"f","scheme":"ms","res":"3000","alt":8.8,"flux":-0.82},{"panel":"f","scheme":"ms","res":"3000","alt":9.43,"flux":-0.8},{"panel":"f","scheme":"ms","res":"3000","alt":9.93,"flux":-0.46},{"panel":"f","scheme":"ms","res":"3000","alt":10.57,"flux":0.0},{"panel":"f","scheme":"ms","res":"3000","alt":11.0,"flux":0.23},{"panel":"f","scheme":"ms","res":"3000","alt":11.21,"flux":0.28},{"panel":"f","scheme":"ms","res":"3000","alt":11.64,"flux":0.06},{"panel":"f","scheme":"ms","res":"3000","alt":12.4,"flux":0.0},{"panel":"f","scheme":"ms","res":"3000","alt":13.1,"flux":0.0},
      {"panel":"f","scheme":"ls","res":"500","alt":0,"flux":-0.9},{"panel":"f","scheme":"ls","res":"500","alt":0.07,"flux":-1.67},{"panel":"f","scheme":"ls","res":"500","alt":0.25,"flux":-1.9},{"panel":"f","scheme":"ls","res":"500","alt":0.43,"flux":-1.93},{"panel":"f","scheme":"ls","res":"500","alt":0.5,"flux":-1.32},{"panel":"f","scheme":"ls","res":"500","alt":0.7,"flux":-0.6},{"panel":"f","scheme":"ls","res":"500","alt":0.9,"flux":-0.3},{"panel":"f","scheme":"ls","res":"500","alt":1.14,"flux":0.06},{"panel":"f","scheme":"ls","res":"500","alt":1.57,"flux":0.93},{"panel":"f","scheme":"ls","res":"500","alt":2.0,"flux":1.8},{"panel":"f","scheme":"ls","res":"500","alt":2.29,"flux":2.48},{"panel":"f","scheme":"ls","res":"500","alt":2.86,"flux":3.04},{"panel":"f","scheme":"ls","res":"500","alt":3.29,"flux":3.0},{"panel":"f","scheme":"ls","res":"500","alt":3.7,"flux":2.4},{"panel":"f","scheme":"ls","res":"500","alt":4.14,"flux":1.79},{"panel":"f","scheme":"ls","res":"500","alt":4.6,"flux":0.8},{"panel":"f","scheme":"ls","res":"500","alt":5.0,"flux":0.0},{"panel":"f","scheme":"ls","res":"500","alt":5.5,"flux":0.05},{"panel":"f","scheme":"ls","res":"500","alt":6.71,"flux":0.06},{"panel":"f","scheme":"ls","res":"500","alt":8.14,"flux":-0.29},{"panel":"f","scheme":"ls","res":"500","alt":9.57,"flux":-0.42},{"panel":"f","scheme":"ls","res":"500","alt":10.0,"flux":-0.29},{"panel":"f","scheme":"ls","res":"500","alt":10.57,"flux":0.0},{"panel":"f","scheme":"ls","res":"500","alt":11.0,"flux":0.2},{"panel":"f","scheme":"ls","res":"500","alt":11.21,"flux":0.25},{"panel":"f","scheme":"ls","res":"500","alt":11.64,"flux":0.06},{"panel":"f","scheme":"ls","res":"500","alt":12.4,"flux":0.0},{"panel":"f","scheme":"ls","res":"500","alt":13.1,"flux":0.0},
      {"panel":"f","scheme":"ls","res":"3000","alt":0,"flux":0.9},{"panel":"f","scheme":"ls","res":"3000","alt":0.07,"flux":1.9},{"panel":"f","scheme":"ls","res":"3000","alt":0.2,"flux":2.7},{"panel":"f","scheme":"ls","res":"3000","alt":0.3,"flux":2.95},{"panel":"f","scheme":"ls","res":"3000","alt":0.36,"flux":2.8},{"panel":"f","scheme":"ls","res":"3000","alt":0.43,"flux":1.6},{"panel":"f","scheme":"ls","res":"3000","alt":0.5,"flux":0.45},{"panel":"f","scheme":"ls","res":"3000","alt":0.57,"flux":0.0},{"panel":"f","scheme":"ls","res":"3000","alt":0.7,"flux":-0.5},{"panel":"f","scheme":"ls","res":"3000","alt":0.86,"flux":-0.98},{"panel":"f","scheme":"ls","res":"3000","alt":1.1,"flux":-1.5},{"panel":"f","scheme":"ls","res":"3000","alt":1.43,"flux":-2.1},{"panel":"f","scheme":"ls","res":"3000","alt":1.8,"flux":-2.7},{"panel":"f","scheme":"ls","res":"3000","alt":2.14,"flux":-3.0},{"panel":"f","scheme":"ls","res":"3000","alt":2.57,"flux":-3.1},{"panel":"f","scheme":"ls","res":"3000","alt":2.9,"flux":-2.95},{"panel":"f","scheme":"ls","res":"3000","alt":3.36,"flux":-2.6},{"panel":"f","scheme":"ls","res":"3000","alt":3.8,"flux":-2.0},{"panel":"f","scheme":"ls","res":"3000","alt":4.14,"flux":-1.45},{"panel":"f","scheme":"ls","res":"3000","alt":4.5,"flux":-0.8},{"panel":"f","scheme":"ls","res":"3000","alt":4.93,"flux":-0.33},{"panel":"f","scheme":"ls","res":"3000","alt":5.07,"flux":-0.54},{"panel":"f","scheme":"ls","res":"3000","alt":5.43,"flux":-1.06},{"panel":"f","scheme":"ls","res":"3000","alt":5.93,"flux":-1.5},{"panel":"f","scheme":"ls","res":"3000","alt":6.43,"flux":-1.54},{"panel":"f","scheme":"ls","res":"3000","alt":6.86,"flux":-1.24},{"panel":"f","scheme":"ls","res":"3000","alt":7.29,"flux":-0.89},{"panel":"f","scheme":"ls","res":"3000","alt":8.14,"flux":-0.85},{"panel":"f","scheme":"ls","res":"3000","alt":8.8,"flux":-0.82},{"panel":"f","scheme":"ls","res":"3000","alt":9.43,"flux":-0.8},{"panel":"f","scheme":"ls","res":"3000","alt":9.93,"flux":-0.46},{"panel":"f","scheme":"ls","res":"3000","alt":10.57,"flux":0.0},{"panel":"f","scheme":"ls","res":"3000","alt":11.0,"flux":0.23},{"panel":"f","scheme":"ls","res":"3000","alt":11.21,"flux":0.28},{"panel":"f","scheme":"ls","res":"3000","alt":11.64,"flux":0.06},{"panel":"f","scheme":"ls","res":"3000","alt":12.4,"flux":0.0},{"panel":"f","scheme":"ls","res":"3000","alt":13.1,"flux":0.0},
      {"panel":"f","scheme":"ls","res":"100","alt":0,"flux":0},{"panel":"f","scheme":"ls","res":"100","alt":13.15,"flux":0}
    ]
  },
  "columns": 5,
  "spacing": {"row": 78, "column": 0},
  "bounds": "flush",
  "align": "each",
  "resolve": {
    "scale": {"color": "independent", "stroke": "independent", "strokeDash": "independent"},
    "legend": {"color": "independent", "stroke": "independent", "strokeDash": "independent"}
  },
  "concat": [
    {
      "width": 299, "height": 340,
      "title": "Cumulus",
      "layer": [
        {
          "data": {"name": "profiles"},
          "transform": [{"filter": "datum.panel === 'a'"}],
          "mark": {"type": "line", "color": "#0000ff", "opacity": 0.75, "strokeWidth": 2.2},
          "encoding": {
            "x": {"field": "flux", "type": "quantitative", "scale": {"domain": [-0.574, 4.19], "nice": false, "zero": false}, "axis": {"values": [0, 2, 4], "format": "d", "title": "Net Vert. Mass Flux [kg/s]"}},
            "y": {"field": "alt", "type": "quantitative", "scale": {"domain": [-0.18, 4.15], "nice": false, "zero": false}, "axis": {"values": [0, 1, 2, 3, 4], "format": "d", "title": "Altitude [km]"}},
            "order": {"field": "alt", "type": "quantitative"}
          }
        },
        {
          "data": {"values": []},
          "mark": {"type": "point", "filled": false},
          "encoding": {
            "stroke": {
              "field": "key", "type": "nominal",
              "scale": {"domain": ["hs", "ms", "ls", "100", "500", "3000"], "range": ["#ff0000", "#000000", "#0000ff", "#000000", "#000000", "#000000"]},
              "legend": {
                "orient": "none", "legendX": 67, "legendY": 835,
                "direction": "horizontal", "columns": 6, "gridAlign": "each", "title": null,
                "symbolType": "stroke", "symbolSize": 3600, "symbolStrokeWidth": 5, "symbolOpacity": 1, "symbolOffset": 10,
                "labelFont": "DejaVu Sans Condensed", "labelFontSize": 30, "labelColor": "#000000", "labelOffset": 5, "labelLimit": 400,
                "columnPadding": 40, "padding": 11, "strokeColor": "#000000"
              }
            },
            "strokeDash": {
              "field": "key", "type": "nominal",
              "scale": {"domain": ["hs", "ms", "ls", "100", "500", "3000"], "range": [[1, 0], [1, 0], [1, 0], [1, 0], [28, 12], [40, 11, 7, 11]]},
              "legend": {
                "orient": "none", "legendX": 67, "legendY": 835,
                "direction": "horizontal", "columns": 6, "gridAlign": "each", "title": null,
                "symbolType": "stroke", "symbolSize": 3600, "symbolStrokeWidth": 5, "symbolOpacity": 1, "symbolOffset": 10,
                "labelFont": "DejaVu Sans Condensed", "labelFontSize": 30, "labelColor": "#000000", "labelOffset": 5, "labelLimit": 400,
                "columnPadding": 40, "padding": 11, "strokeColor": "#000000"
              }
            }
          }
        },
        {"data": {"values": [{}]}, "mark": {"type": "text", "text": "a)", "fontSize": 38, "align": "left", "baseline": "middle", "dx": 67, "dy": 32}, "encoding": {"x": {"datum": -0.574}, "y": {"datum": 4.15}}},
        {"data": {"values": [{}]}, "mark": {"type": "text", "text": "x10", "fontSize": 24, "align": "left", "baseline": "middle", "dx": -7, "dy": 55}, "encoding": {"x": {"datum": 4.19}, "y": {"datum": -0.18}}},
        {"data": {"values": [{}]}, "mark": {"type": "text", "text": "8", "fontSize": 17, "align": "left", "baseline": "middle", "dx": 41, "dy": 40}, "encoding": {"x": {"datum": 4.19}, "y": {"datum": -0.18}}}
      ]
    },
    {"width": 65, "height": 340, "data": {"values": []}, "mark": "point", "view": {"stroke": null}},
    {
      "width": 300, "height": 340,
      "title": "Congestus",
      "layer": [
        {
          "data": {"name": "profiles"},
          "transform": [{"filter": "datum.panel === 'b'"}],
          "mark": {"type": "line", "color": "#0000ff", "opacity": 0.75, "strokeWidth": 2.2},
          "encoding": {
            "x": {"field": "flux", "type": "quantitative", "scale": {"domain": [-4.06, 3.96], "nice": false, "zero": false}, "axis": {"values": [-2.5, 0, 2.5], "format": ".1f", "title": "Net Vert. Mass Flux [kg/s]"}},
            "y": {"field": "alt", "type": "quantitative", "scale": {"domain": [-0.34, 7.3], "nice": false, "zero": false}, "axis": {"values": [0, 2, 4, 6], "format": "d", "title": "Altitude [km]"}},
            "order": {"field": "alt", "type": "quantitative"}
          }
        },
        {"data": {"values": [{}]}, "mark": {"type": "text", "text": "b)", "fontSize": 38, "align": "left", "baseline": "middle", "dx": 12, "dy": 32}, "encoding": {"x": {"datum": -4.06}, "y": {"datum": 7.3}}},
        {"data": {"values": [{}]}, "mark": {"type": "text", "text": "x10", "fontSize": 24, "align": "left", "baseline": "middle", "dx": -7, "dy": 55}, "encoding": {"x": {"datum": 3.96}, "y": {"datum": -0.34}}},
        {"data": {"values": [{}]}, "mark": {"type": "text", "text": "7", "fontSize": 17, "align": "left", "baseline": "middle", "dx": 41, "dy": 40}, "encoding": {"x": {"datum": 3.96}, "y": {"datum": -0.34}}}
      ]
    },
    {"width": 107, "height": 340, "data": {"values": []}, "mark": "point", "view": {"stroke": null}},
    {
      "width": 300, "height": 340,
      "title": "Cumulonimbus",
      "layer": [
        {
          "data": {"name": "profiles"},
          "transform": [{"filter": "datum.panel === 'c'"}],
          "mark": {"type": "line", "color": "#0000ff", "opacity": 0.75, "strokeWidth": 2.2},
          "encoding": {
            "x": {"field": "flux", "type": "quantitative", "scale": {"domain": [-4.24, 5.04], "nice": false, "zero": false}, "axis": {"values": [0, 5], "format": "d", "title": "Net Vert. Mass Flux [kg/s]"}},
            "y": {"field": "alt", "type": "quantitative", "scale": {"domain": [-0.64, 13.3], "nice": false, "zero": false}, "axis": {"values": [0, 2.5, 5, 7.5, 10, 12.5], "format": ".1f", "title": "Altitude [km]"}},
            "order": {"field": "alt", "type": "quantitative"}
          }
        },
        {"data": {"values": [{}]}, "mark": {"type": "text", "text": "c)", "fontSize": 38, "align": "left", "baseline": "middle", "dx": 14, "dy": 32}, "encoding": {"x": {"datum": -4.24}, "y": {"datum": 13.3}}},
        {"data": {"values": [{}]}, "mark": {"type": "text", "text": "x10", "fontSize": 24, "align": "left", "baseline": "middle", "dx": -8, "dy": 55}, "encoding": {"x": {"datum": 5.04}, "y": {"datum": -0.64}}},
        {"data": {"values": [{}]}, "mark": {"type": "text", "text": "7", "fontSize": 17, "align": "left", "baseline": "middle", "dx": 40, "dy": 40}, "encoding": {"x": {"datum": 5.04}, "y": {"datum": -0.64}}}
      ]
    },
    {
      "width": 299, "height": 339,
      "layer": [
        {
          "data": {"name": "diffs"},
          "transform": [{"filter": "datum.panel === 'd'"}],
          "mark": {"type": "line", "strokeWidth": 2, "opacity": 0.8},
          "encoding": {
            "x": {"field": "flux", "type": "quantitative", "scale": {"domain": [-0.63, 1.66], "nice": false, "zero": false}, "axis": {"values": [0, 1], "format": "d", "title": "Net Vert. Mass Flux Diff. [kg/s]", "titleAnchor": "end", "titleAlign": "right", "titleX": 275}},
            "y": {"field": "alt", "type": "quantitative", "scale": {"domain": [-0.22, 4.15], "nice": false, "zero": false}, "axis": {"values": [0, 1, 2, 3, 4], "format": "d", "title": "Altitude [km]"}},
            "color": {"field": "scheme", "type": "nominal", "scale": {"domain": ["hs", "ms", "ls"], "range": ["#ff0000", "#000000", "#0000ff"]}, "legend": null},
            "strokeDash": {"field": "res", "type": "nominal", "scale": {"domain": ["100", "500", "3000"], "range": [[1, 0], [9, 4], [12, 4, 3, 4]]}, "legend": null},
            "order": {"field": "alt", "type": "quantitative"}
          }
        },
        {"data": {"values": [{}]}, "mark": {"type": "text", "text": "d)", "fontSize": 38, "align": "left", "baseline": "middle", "dx": 8, "dy": 31}, "encoding": {"x": {"datum": -0.63}, "y": {"datum": 4.15}}},
        {"data": {"values": [{}]}, "mark": {"type": "text", "text": "x10", "fontSize": 24, "align": "left", "baseline": "middle", "dx": -24, "dy": 51}, "encoding": {"x": {"datum": 1.66}, "y": {"datum": -0.22}}},
        {"data": {"values": [{}]}, "mark": {"type": "text", "text": "8", "fontSize": 17, "align": "left", "baseline": "middle", "dx": 24, "dy": 36}, "encoding": {"x": {"datum": 1.66}, "y": {"datum": -0.22}}}
      ]
    },
    {"width": 65, "height": 339, "data": {"values": []}, "mark": "point", "view": {"stroke": null}},
    {
      "width": 300, "height": 339,
      "layer": [
        {
          "data": {"name": "diffs"},
          "transform": [{"filter": "datum.panel === 'e'"}],
          "mark": {"type": "line", "strokeWidth": 2, "opacity": 0.8},
          "encoding": {
            "x": {"field": "flux", "type": "quantitative", "scale": {"domain": [-1.34, 3.34], "nice": false, "zero": false}, "axis": {"values": [0, 2], "format": "d", "title": "Net Vert. Mass Flux Diff. [kg/s]", "titleAnchor": "end", "titleAlign": "right", "titleX": 297}},
            "y": {"field": "alt", "type": "quantitative", "scale": {"domain": [-0.38, 7.29], "nice": false, "zero": false}, "axis": {"values": [0, 2, 4, 6], "format": "d", "title": "Altitude [km]"}},
            "color": {"field": "scheme", "type": "nominal", "scale": {"domain": ["hs", "ms", "ls"], "range": ["#ff0000", "#000000", "#0000ff"]}, "legend": null},
            "strokeDash": {"field": "res", "type": "nominal", "scale": {"domain": ["100", "500", "3000"], "range": [[1, 0], [9, 4], [12, 4, 3, 4]]}, "legend": null},
            "order": {"field": "alt", "type": "quantitative"}
          }
        },
        {"data": {"values": [{}]}, "mark": {"type": "text", "text": "e)", "fontSize": 38, "align": "left", "baseline": "middle", "dx": 9, "dy": 33}, "encoding": {"x": {"datum": -1.34}, "y": {"datum": 7.29}}},
        {"data": {"values": [{}]}, "mark": {"type": "text", "text": "x10", "fontSize": 24, "align": "left", "baseline": "middle", "dx": -3, "dy": 51}, "encoding": {"x": {"datum": 3.34}, "y": {"datum": -0.38}}},
        {"data": {"values": [{}]}, "mark": {"type": "text", "text": "7", "fontSize": 17, "align": "left", "baseline": "middle", "dx": 45, "dy": 36}, "encoding": {"x": {"datum": 3.34}, "y": {"datum": -0.38}}}
      ]
    },
    {"width": 108, "height": 339, "data": {"values": []}, "mark": "point", "view": {"stroke": null}},
    {
      "width": 299, "height": 339,
      "layer": [
        {
          "data": {"name": "diffs"},
          "transform": [{"filter": "datum.panel === 'f'"}],
          "mark": {"type": "line", "strokeWidth": 2, "opacity": 0.8},
          "encoding": {
            "x": {"field": "flux", "type": "quantitative", "scale": {"domain": [-4.06, 3.72], "nice": false, "zero": false}, "axis": {"values": [-2.5, 0, 2.5], "format": ".1f", "title": "Net Vert. Mass Flux Diff. [kg/s]", "titleAnchor": "end", "titleAlign": "right", "titleX": 297}},
            "y": {"field": "alt", "type": "quantitative", "scale": {"domain": [-0.73, 13.3], "nice": false, "zero": false}, "axis": {"values": [0, 2.5, 5, 7.5, 10, 12.5], "format": ".1f", "title": "Altitude [km]"}},
            "color": {"field": "scheme", "type": "nominal", "scale": {"domain": ["hs", "ms", "ls"], "range": ["#ff0000", "#000000", "#0000ff"]}, "legend": null},
            "strokeDash": {"field": "res", "type": "nominal", "scale": {"domain": ["100", "500", "3000"], "range": [[1, 0], [9, 4], [12, 4, 3, 4]]}, "legend": null},
            "order": {"field": "alt", "type": "quantitative"}
          }
        },
        {"data": {"values": [{}]}, "mark": {"type": "text", "text": "f)", "fontSize": 38, "align": "left", "baseline": "middle", "dx": 11, "dy": 33}, "encoding": {"x": {"datum": -4.06}, "y": {"datum": 13.3}}},
        {"data": {"values": [{}]}, "mark": {"type": "text", "text": "x10", "fontSize": 24, "align": "left", "baseline": "middle", "dx": -2, "dy": 51}, "encoding": {"x": {"datum": 3.72}, "y": {"datum": -0.73}}},
        {"data": {"values": [{}]}, "mark": {"type": "text", "text": "7", "fontSize": 17, "align": "left", "baseline": "middle", "dx": 46, "dy": 36}, "encoding": {"x": {"datum": 3.72}, "y": {"datum": -0.73}}}
      ]
    }
  ],
  "config": {
    "font": "DejaVu Sans",
    "view": {"stroke": "#333333", "strokeWidth": 1.2},
    "axis": {
      "domain": false, "grid": true, "gridColor": "#b0b0b0", "gridWidth": 1,
      "ticks": true, "tickColor": "#222222", "tickSize": 7, "tickWidth": 1,
      "labelFont": "DejaVu Sans", "labelFontSize": 24, "labelColor": "#111111",
      "titleFont": "DejaVu Sans", "titleFontSize": 21, "titleFontWeight": "normal", "titleColor": "#111111",
      "labelFlush": false, "labelOverlap": false
    },
    "axisX": {"labelPadding": 4, "titlePadding": 8},
    "axisY": {"labelPadding": 8, "titlePadding": 6},
    "legend": {"strokeWidth": 2.5},
    "title": {"font": "DejaVu Sans", "fontSize": 20, "fontWeight": "normal", "color": "#111111", "offset": 5},
    "text": {"color": "#000000"},
    "line": {"strokeJoin": "round"}
  }
}
